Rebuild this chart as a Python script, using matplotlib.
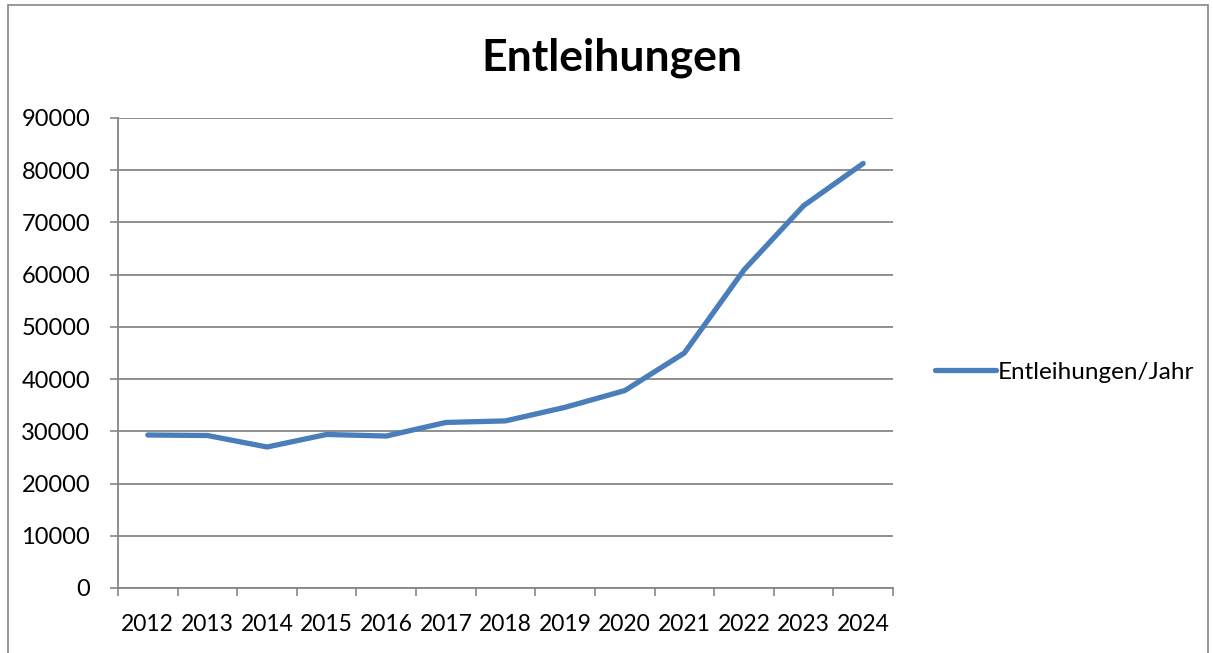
import matplotlib
matplotlib.use("Agg")
import matplotlib.pyplot as plt
from matplotlib.patches import Rectangle
import numpy as np

# ── Data ──────────────────────────────────────────────────────────────────────
years = ["2012", "2013", "2014", "2015", "2016", "2017", "2018",
         "2019", "2020", "2021", "2022", "2023", "2024"]
loans = [29300, 29200, 27000, 29400, 29100, 31700, 32000,
         34600, 37800, 45000, 60900, 73200, 81300]

LINE_COLOR = "#4A7EBB"
GRID_COLOR = "#868686"

plt.rcParams["font.family"] = ["Lato", "DejaVu Sans"]

fig = plt.figure(figsize=(12.13, 6.53), dpi=100)
W, H = 1213, 653
ax = fig.add_axes([118 / W, 1 - 588 / H, (893 - 118) / W, (588 - 118) / H])

# outer chart border
fig.patches.append(Rectangle((8 / W, -0.05), (1208 - 8) / W, 1.05 - 5 / H,
                             transform=fig.transFigure, fill=False,
                             edgecolor=GRID_COLOR, lw=1.2))

x = np.arange(len(years))
ax.plot(x, loans, color=LINE_COLOR, lw=3.8, solid_capstyle="round",
        solid_joinstyle="round", label="Entleihungen/Jahr")

ax.set_xlim(-0.5, len(years) - 0.5)
ax.set_ylim(0, 90000)
ax.set_yticks(np.arange(0, 90001, 10000))
ax.set_xticks(x)
ax.set_xticklabels(years)
ax.set_xticks(np.arange(-0.5, len(years)), minor=True)

ax.tick_params(axis="x", which="major", length=0, pad=19, labelsize=16.5)
ax.tick_params(axis="x", which="minor", length=6, color=GRID_COLOR, width=1.2)
ax.tick_params(axis="y", length=6, color=GRID_COLOR, width=1.2, pad=14,
               labelsize=17)

ax.grid(axis="y", color=GRID_COLOR, lw=1.3)
ax.set_axisbelow(True)
for s in ["top", "right"]:
    ax.spines[s].set_visible(False)
for s in ["left", "bottom"]:
    ax.spines[s].set_color(GRID_COLOR)
    ax.spines[s].set_linewidth(1.3)

fig.text(612 / W, 1 - 58 / H, "Entleihungen", ha="center", va="center",
         fontsize=32, fontweight="bold")

ax.legend(loc="center left", bbox_to_anchor=(913 / W, 1 - 372 / H),
          bbox_transform=fig.transFigure, frameon=False, fontsize=17.5,
          handlelength=2.5, handletextpad=0.1)

plt.savefig("out.png", dpi=100)
plt.close()
